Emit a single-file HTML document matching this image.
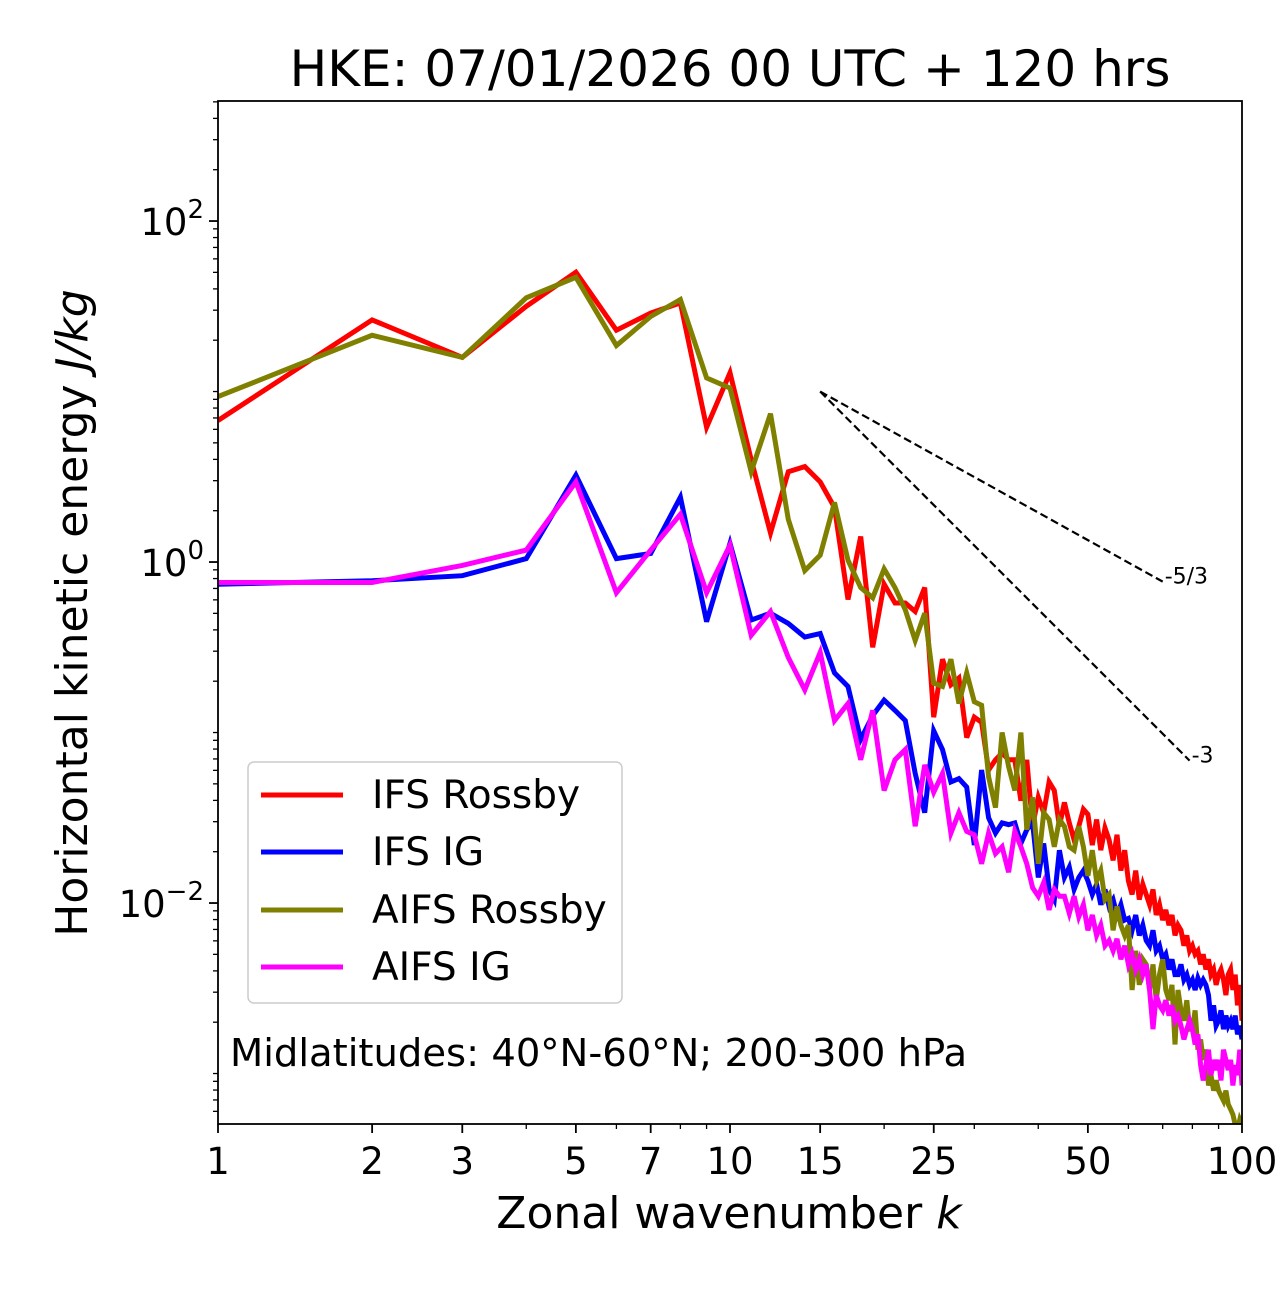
<!DOCTYPE html>
<html><head><meta charset="utf-8"><style>
html,body{margin:0;padding:0;background:#fff;}
svg text{font-family:"DejaVu Sans","Liberation Sans",sans-serif;fill:#000;}
</style></head><body>
<svg id="chart" width="1280" height="1288" xmlns="http://www.w3.org/2000/svg">
<rect width="1280" height="1288" fill="#fff"/>
<text x="730" y="86" font-size="50" text-anchor="middle">HKE: 07/01/2026 00 UTC + 120 hrs</text>
<g id="grid"></g>
<g id="series"></g>
<g id="axes"></g>
</svg>
<script>
// Data (log10 of energy in J/kg) for wavenumbers k = 1..100
const wavenumbers = Array.from({length:100},(_,i)=>i+1);
const ifsRossbyLog = [0.83,1.42,1.20,1.50,1.70,1.36,1.46,1.52,0.79,1.11,
0.60,0.17,0.53,0.56,0.47,0.32,-0.22,0.15,-0.50,-0.13,
-0.24,-0.24,-0.29,-0.15,-0.91,-0.57,-0.72,-0.68,-1.03,-0.91,
-0.94,-1.22,-1.16,-1.12,-1.16,-1.16,-1.40,-1.16,-1.55,-1.38,
-1.47,-1.29,-1.34,-1.55,-1.41,-1.53,-1.63,-1.55,-1.45,-1.48,
-1.66,-1.51,-1.69,-1.56,-1.63,-1.75,-1.60,-1.81,-1.69,-1.87,
-1.95,-1.81,-1.98,-1.89,-1.95,-2.01,-1.92,-2.07,-2.01,-2.10,
-2.04,-2.13,-2.07,-2.19,-2.13,-2.16,-2.25,-2.19,-2.28,-2.25,
-2.30,-2.28,-2.36,-2.30,-2.39,-2.33,-2.42,-2.39,-2.48,-2.42,
-2.39,-2.45,-2.54,-2.42,-2.39,-2.51,-2.42,-2.60,-2.48,-2.69];
const ifsIgLog = [-0.13,-0.11,-0.08,0.02,0.51,0.02,0.05,0.38,-0.35,0.11,
-0.34,-0.30,-0.36,-0.44,-0.42,-0.65,-0.73,-1.04,-0.90,-0.81,
-0.87,-0.93,-1.24,-1.47,-0.99,-1.10,-1.29,-1.27,-1.32,-1.66,
-1.22,-1.50,-1.59,-1.53,-1.54,-1.53,-1.65,-1.57,-1.53,-1.85,
-1.65,-1.92,-1.98,-1.69,-1.85,-1.79,-1.92,-1.85,-1.81,-1.87,
-1.95,-1.89,-2.01,-1.92,-2.02,-1.98,-2.07,-2.01,-2.10,-2.09,
-2.16,-2.07,-2.19,-2.13,-2.22,-2.25,-2.16,-2.28,-2.25,-2.33,
-2.30,-2.39,-2.33,-2.42,-2.42,-2.36,-2.45,-2.42,-2.48,-2.45,
-2.51,-2.44,-2.48,-2.45,-2.48,-2.54,-2.69,-2.60,-2.72,-2.69,
-2.63,-2.74,-2.66,-2.72,-2.69,-2.74,-2.66,-2.77,-2.72,-2.80];
const aifsRossbyLog = [0.97,1.33,1.20,1.55,1.67,1.27,1.44,1.54,1.08,1.02,
0.53,0.87,0.25,-0.05,0.04,0.35,0.01,-0.15,-0.21,-0.04,
-0.15,-0.28,-0.46,-0.30,-0.71,-0.73,-0.57,-0.83,-0.65,-0.82,
-0.84,-1.26,-1.44,-1.00,-1.20,-1.34,-1.00,-1.57,-1.38,-1.77,
-1.47,-1.51,-1.67,-1.51,-1.55,-1.67,-1.69,-1.55,-1.67,-1.84,
-1.69,-1.87,-1.81,-1.98,-1.95,-2.16,-2.02,-2.13,-2.19,-2.13,
-2.51,-2.28,-2.48,-2.33,-2.36,-2.51,-2.36,-2.57,-2.42,-2.33,
-2.51,-2.57,-2.48,-2.83,-2.51,-2.63,-2.69,-2.57,-2.74,-2.74,
-2.63,-2.86,-2.80,-2.92,-2.86,-3.07,-3.01,-3.10,-3.04,-3.10,
-3.13,-3.16,-3.10,-3.18,-3.21,-3.24,-3.30,-3.33,-3.27,-3.30];
const aifsIgLog = [-0.12,-0.12,-0.02,0.07,0.47,-0.18,0.07,0.28,-0.18,0.10,
-0.43,-0.29,-0.56,-0.75,-0.53,-0.93,-0.83,-1.16,-0.87,-1.34,
-1.16,-1.10,-1.55,-1.19,-1.35,-1.24,-1.59,-1.47,-1.58,-1.60,
-1.77,-1.59,-1.71,-1.67,-1.82,-1.58,-1.67,-1.77,-1.91,-1.96,
-1.88,-2.04,-1.92,-1.96,-1.96,-2.06,-1.96,-2.08,-2.01,-2.16,
-2.07,-2.19,-2.13,-2.25,-2.22,-2.28,-2.21,-2.33,-2.25,-2.36,
-2.30,-2.39,-2.33,-2.42,-2.36,-2.51,-2.74,-2.54,-2.60,-2.63,
-2.57,-2.66,-2.60,-2.69,-2.66,-2.72,-2.80,-2.74,-2.69,-2.74,
-2.83,-2.77,-2.95,-3.04,-2.95,-2.86,-3.01,-2.92,-2.98,-2.92,
-3.04,-2.86,-2.92,-2.98,-2.92,-3.07,-2.95,-3.01,-2.86,-3.07];
const seriesNames = ["IFS Rossby","IFS IG","AIFS Rossby","AIFS IG"];
const seriesColors = ["#ff0000","#0000ff","#808000","#ff00ff"];
const xTickValues = [1,2,3,5,7,10,15,25,50,100];
const xMinorValues = [4,6,8,9,20,30,40,60,70,80,90];
const yMajorExp = [-2,0,2];
const slopeRef = {k0:15, logE0:1.0, slopes:[-5/3,-3], kEnd:[70,79], labels:["-5/3","-3"]};

const NS="http://www.w3.org/2000/svg";
const L=218,R=1242,T=101,B=1124;
const yMin=-3.296,yMax=2.704;
const xs=k=>L+(R-L)*Math.log10(k)/2;
const ys=lg=>B-(B-T)*(lg-yMin)/(yMax-yMin);
function mk(tag,attrs,parent){const e=document.createElementNS(NS,tag);for(const a in attrs)e.setAttribute(a,attrs[a]);parent.appendChild(e);return e;}
const svg=document.getElementById('chart');
const gs=document.getElementById('series'), ga=document.getElementById('axes');

const defs=mk('defs',{},svg);
const cp=mk('clipPath',{id:'clip'},defs);
mk('rect',{x:L,y:T,width:R-L,height:B-T},cp);
gs.setAttribute('clip-path','url(#clip)');

const allSeries=[ifsRossbyLog,ifsIgLog,aifsRossbyLog,aifsIgLog];
const seriesIds=['line-ifs-rossby','line-ifs-ig','line-aifs-rossby','line-aifs-ig'];
allSeries.forEach((arr,i)=>{
  const d=arr.map((v,j)=>(j?'L':'M')+xs(wavenumbers[j]).toFixed(1)+','+ys(v).toFixed(1)).join(' ');
  const p=mk('path',{d:d,fill:'none',stroke:seriesColors[i],'stroke-width':5,'stroke-linejoin':'miter'},gs);
  
  
});

slopeRef.slopes.forEach((s,i)=>{
  const x0=xs(slopeRef.k0),y0=ys(slopeRef.logE0);
  const ke=slopeRef.kEnd[i];
  const le=slopeRef.logE0+s*(Math.log10(ke)-Math.log10(slopeRef.k0));
  const ln=mk('line',{x1:x0,y1:y0,x2:xs(ke),y2:ys(le),stroke:'#000','stroke-width':2.2,'stroke-dasharray':'8,4'},gs);
  
  
  const t=mk('text',{x:xs(ke)+2,y:ys(le)-4,'font-size':22,'dominant-baseline':'middle'},svg);
  t.textContent=slopeRef.labels[i];
  
  
});

const fr=mk('rect',{x:L,y:T,width:R-L,height:B-T,fill:'none',stroke:'#000','stroke-width':1.8},ga);



for(let e=-4;e<=2;e++){
  for(let m=1;m<=9;m++){
    const lg=e+Math.log10(m);
    if(lg<yMin||lg>yMax)continue;
    const major=(m===1&&yMajorExp.includes(e));
    const tk=mk('line',{x1:L,x2:L-(major?9:5),y1:ys(lg),y2:ys(lg),stroke:'#000','stroke-width':major?1.8:1.3},ga);
    
    
  }
}
yMajorExp.forEach(e=>{
  const t=mk('text',{x:L-14,y:ys(e)+14,'font-size':37,'text-anchor':'end'},ga);
  
  
  t.innerHTML='10<tspan dy="-17" font-size="26">'+(e<0?'\u2212':'')+Math.abs(e)+'</tspan>';
});
xTickValues.forEach(k=>{
  const tk=mk('line',{x1:xs(k),x2:xs(k),y1:B,y2:B+9,stroke:'#000','stroke-width':1.8},ga);
  
  
  const t=mk('text',{x:xs(k),y:B+50,'font-size':37,'text-anchor':'middle'},ga);
  t.textContent=k;
  
  
});
xMinorValues.forEach(k=>{
  const tk=mk('line',{x1:xs(k),x2:xs(k),y1:B,y2:B+5,stroke:'#000','stroke-width':1.3},ga);
  
  
});
</script>
<svg style="position:absolute;left:0;top:0" width="1280" height="1288" xmlns="http://www.w3.org/2000/svg">
<text x="729" y="1228" font-size="44" text-anchor="middle">Zonal wavenumber <tspan font-style="italic">k</tspan></text>
<text transform="translate(87,613) rotate(-90)" font-size="44" text-anchor="middle">Horizontal kinetic energy <tspan font-style="italic">J/kg</tspan></text>
<g>
<rect x="248" y="762" width="374" height="241" rx="6" fill="#fff" fill-opacity="0.8" stroke="#ccc" stroke-width="1.5"/>
<g><line x1="261" x2="343" y1="795" y2="795" stroke="#ff0000" stroke-width="5"/><text x="372" y="808" font-size="39">IFS Rossby</text></g>
<g><line x1="261" x2="343" y1="852" y2="852" stroke="#0000ff" stroke-width="5"/><text x="372" y="865" font-size="39">IFS IG</text></g>
<g><line x1="261" x2="343" y1="910" y2="910" stroke="#808000" stroke-width="5"/><text x="372" y="923" font-size="39">AIFS Rossby</text></g>
<g><line x1="261" x2="343" y1="967" y2="967" stroke="#ff00ff" stroke-width="5"/><text x="372" y="980" font-size="39">AIFS IG</text></g>
</g>
<text x="230" y="1066" font-size="38.5">Midlatitudes: 40°N-60°N; 200-300 hPa</text>
</svg>
</body></html>
